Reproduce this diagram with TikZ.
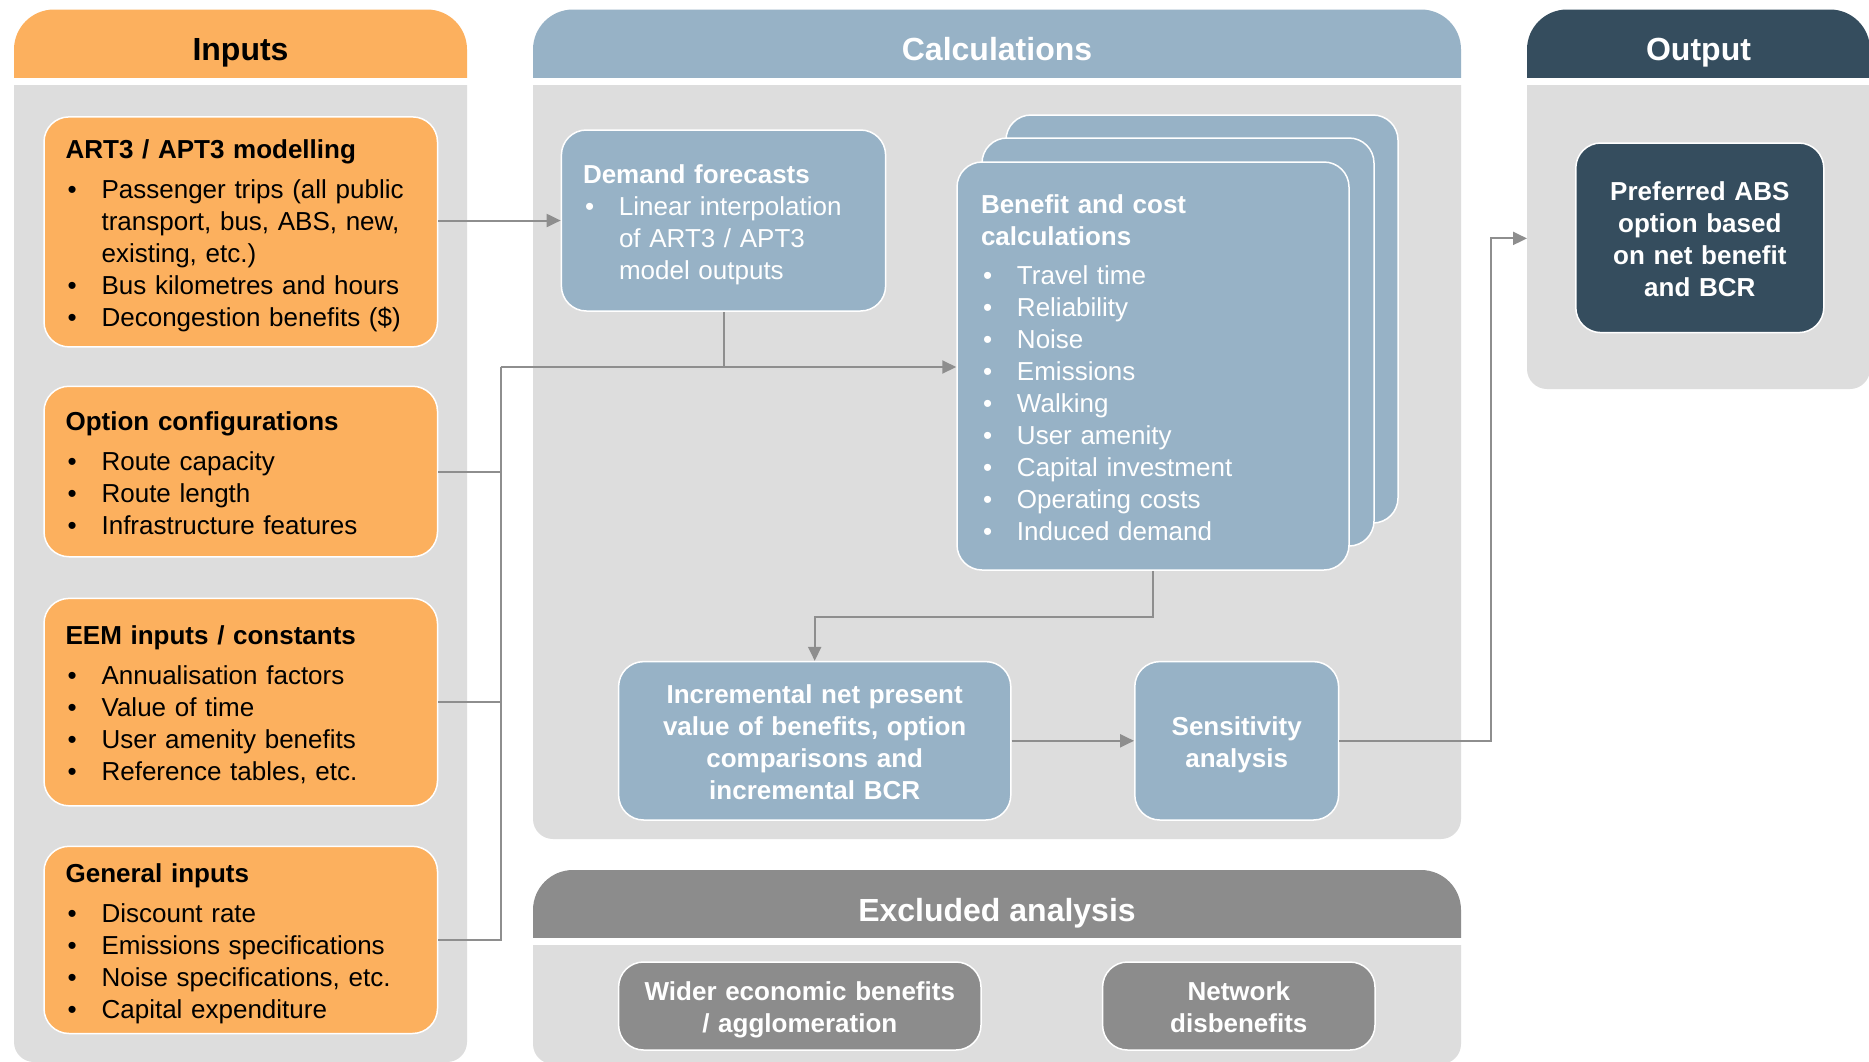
\documentclass[tikz,border=0pt]{standalone}
\usepackage{fontspec}
\setmainfont{Liberation Sans}
\usetikzlibrary{arrows.meta}
\definecolor{orng}{HTML}{FCB05E}
\definecolor{bluegr}{HTML}{97B2C6}
\definecolor{darkbl}{HTML}{354D5E}
\definecolor{midgr}{HTML}{8C8C8C}
\definecolor{panelgr}{HTML}{DDDDDD}
\definecolor{linegr}{HTML}{8E8E8E}
\newcommand{\bul}{\makebox[36pt][l]{\hspace{2pt}•}}
\newcommand{\ind}{\hspace*{36pt}}
\newcommand{\tp}{\rule{0pt}{28pt}}
\newcommand{\bt}{\rule[-7pt]{0pt}{7pt}}
\begin{document}
\begin{tikzpicture}[x=1pt,y=-1pt,
  card/.style={rounded corners=25pt, draw=white, line width=1.5pt, inner ysep=0pt,
    font=\fontsize{26}{32}\selectfont},
  inbox/.style={card, fill=orng, text=black, inner xsep=21.6pt, align=left},
  calcbox/.style={card, fill=bluegr, text=white, inner xsep=21.6pt, align=left},
  ctrbox/.style={card, text=white, inner xsep=8pt, align=center, font=\bfseries\fontsize{26}{32}\selectfont},
  bcard/.style={card, fill=bluegr, minimum width=392pt, minimum height=408pt},
  hdr/.style={anchor=base, inner sep=0pt, font=\bfseries\fontsize{32}{38}\selectfont},
  conn/.style={draw=linegr, line width=2pt},
  arr/.style={conn, -{Triangle[length=14pt,width=13pt]}}
]
\useasboundingbox (0,0) rectangle (1869,1061);
\clip (0,0) rectangle (1869,1061);
\fill[white] (0,0) rectangle (1869,1061);

% ---------- panels ----------
% Inputs
\begin{scope}
\clip (14,9.5) rectangle (467,77.5);
\fill[orng, rounded corners=40pt] (14,9.5) rectangle (467,160);
\end{scope}
\begin{scope}
\clip (14,85.8) rectangle (467,1062);
\fill[panelgr, rounded corners=20pt] (14,0) rectangle (467,1062);
\end{scope}
% Calculations
\begin{scope}
\clip (533,9.5) rectangle (1461,77.5);
\fill[bluegr, rounded corners=40pt] (533,9.5) rectangle (1461,160);
\end{scope}
\begin{scope}
\clip (533,85.8) rectangle (1461,839);
\fill[panelgr, rounded corners=20pt] (533,0) rectangle (1461,839);
\end{scope}
% Output
\begin{scope}
\clip (1527,9.5) rectangle (1870,77.5);
\fill[darkbl, rounded corners=40pt] (1527,9.5) rectangle (1870,160);
\end{scope}
\begin{scope}
\clip (1527,85.8) rectangle (1870,389);
\fill[panelgr, rounded corners=20pt] (1527,0) rectangle (1870,389);
\end{scope}
% Excluded
\begin{scope}
\clip (533,870) rectangle (1461,937);
\fill[midgr, rounded corners=40pt] (533,870) rectangle (1461,1000);
\end{scope}
\begin{scope}
\clip (533,945) rectangle (1461,1064);
\fill[panelgr, rounded corners=20pt] (533,900) rectangle (1461,1064);
\end{scope}

% headers
\node[hdr, text=black] (hin) at (240.5,60.5) {Inputs};
\node[hdr, text=white] (hcalc) at (997,60.5) {Calculations};
\node[hdr, text=white] (hout) at (1698.5,60.5) {Output};
\node[hdr, text=white] (hexc) at (997,921) {Excluded analysis};

% ---------- input boxes ----------
\node[inbox, text width=350.3pt, minimum height=230pt] (a3) at (240.75,231.9)
 {\tp\textbf{ART3 / APT3 modelling}\\[8pt]
  \bul Passenger trips (all public\\
  \ind transport, bus, ABS, new,\\
  \ind existing, etc.)\\
  \bul Bus kilometres and hours\\
  \bul Decongestion benefits (\$)\bt};
\node[inbox, text width=350.3pt, minimum height=170.5pt] (opt) at (240.75,471.5)
 {\tp\textbf{Option configurations}\\[8pt]
  \bul Route capacity\\
  \bul Route length\\
  \bul Infrastructure features\bt};
\node[inbox, text width=350.3pt, minimum height=207.4pt] (eem) at (240.75,702.1)
 {\tp\textbf{EEM inputs / constants}\\[8pt]
  \bul Annualisation factors\\
  \bul Value of time\\
  \bul User amenity benefits\\
  \bul Reference tables, etc.\bt};
\node[inbox, text width=350.3pt, minimum height=187.2pt] (gen) at (240.75,939.9)
 {\tp\textbf{General inputs}\\[8pt]
  \bul Discount rate\\
  \bul Emissions specifications\\
  \bul Noise specifications, etc.\\
  \bul Capital expenditure\bt};

% ---------- calculation boxes ----------
\node[calcbox, text width=281pt, minimum height=181pt] (dem) at (723.5,220.5)
 {\tp\textbf{Demand forecasts}\\
  \bul Linear interpolation\\
  \ind of ART3 / APT3\\
  \ind model outputs\bt};

\node[bcard] (bc3) at (1202,319) {};
\node[bcard] (bc2) at (1178,342) {};
\node[bcard, text=white, inner xsep=24pt, text width=344pt, align=left] (bc1) at (1153,366)
 {\tp\textbf{Benefit and cost}\\
  \textbf{calculations}\\[7pt]
  \bul Travel time\\
  \bul Reliability\\
  \bul Noise\\
  \bul Emissions\\
  \bul Walking\\
  \bul User amenity\\
  \bul Capital investment\\
  \bul Operating costs\\
  \bul Induced demand\bt};

\node[ctrbox, fill=bluegr, text width=376.2pt, minimum height=158.4pt] (inc) at (814.7,740.8)
 {\tp Incremental net present\\value of benefits, option\\comparisons and\\incremental BCR\bt};
\node[ctrbox, fill=bluegr, text width=187.8pt, minimum height=158.4pt] (sen) at (1236.7,740.8)
 {\tp Sensitivity\\analysis\bt};

% ---------- output box ----------
\node[ctrbox, fill=darkbl, text width=232pt, minimum height=189.6pt] (out) at (1699.8,237.8)
 {\tp Preferred ABS\\option based\\on net benefit\\and BCR\bt};

% ---------- excluded boxes ----------
\node[ctrbox, fill=midgr, text width=346.4pt, minimum height=88pt] (wid) at (799.8,1006)
 {\tp Wider economic benefits\\/ agglomeration\bt};
\node[ctrbox, fill=midgr, text width=256.4pt, minimum height=88pt] (net) at (1238.8,1006)
 {\tp Network\\disbenefits\bt};

% ---------- connectors ----------
\coordinate (bus) at (500.6,367);
\coordinate (elb) at (1491,238.4);
\coordinate (outin) at (1527,238.4);

\draw[arr] (a3.east |- dem.west) -- (dem.west);
\draw[conn] (opt.east) -| (bus);
\draw[conn] (eem.east) -| (bus);
\draw[conn] (gen.east) -| (bus);
\draw[arr] (bus) -- (bus -| bc1.west);
\draw[conn] (dem.south) -- (dem.south |- bus);
\draw[arr] (bc1.south) -- ++(0,46) -| (inc.north);
\draw[arr] (inc.east) -- (sen.west);
\draw[arr] (sen.east) -| (elb) -- (outin);
\end{tikzpicture}
\end{document}
